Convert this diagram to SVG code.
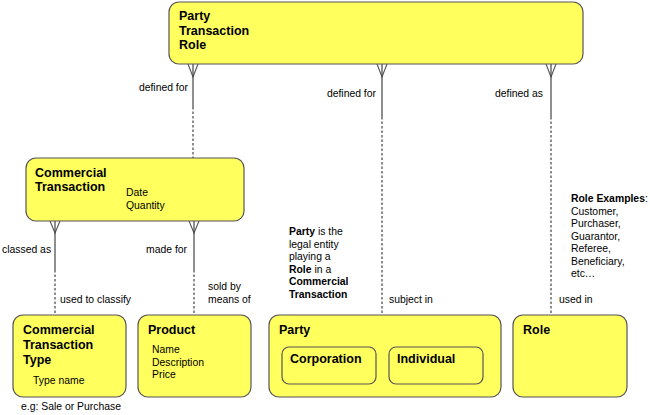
<svg xmlns="http://www.w3.org/2000/svg" width="650" height="415" viewBox="0 0 650 415">
<style>
.box{fill:#ffff5e;stroke:#555;stroke-width:1.2}
.t{font-family:"Liberation Sans",Arial,sans-serif;font-size:12.5px;font-weight:bold;fill:#000}
.a{font-family:"Liberation Sans",Arial,sans-serif;font-size:10.4px;fill:#000}
.s{stroke:#444;stroke-width:1.2;fill:none}
.d{stroke:#444;stroke-width:1.2;fill:none;stroke-dasharray:2.5,2}
.cf{stroke:#555;stroke-width:1.1;fill:none}
</style>
<rect width="650" height="415" fill="#fff"/>
<g id="connectors">
  <path class="cf" d="M188,64 L193,77 L198,64"/>
  <line class="s" x1="193" y1="64" x2="193" y2="107"/>
  <line class="d" x1="193" y1="107" x2="193" y2="158"/>
  <text class="a" x="188" y="91" text-anchor="end">defined for</text>
  <path class="cf" d="M377,64 L382,77 L387,64"/>
  <line class="s" x1="382" y1="64" x2="382" y2="117"/>
  <line class="d" x1="382" y1="117" x2="382" y2="315"/>
  <text class="a" x="376" y="97" text-anchor="end">defined for</text>
  <text class="a" x="389" y="303">subject in</text>
  <path class="cf" d="M546,64 L551,77 L556,64"/>
  <line class="s" x1="551" y1="64" x2="551" y2="117"/>
  <line class="d" x1="551" y1="117" x2="551" y2="315"/>
  <text class="a" x="543" y="97" text-anchor="end">defined as</text>
  <text class="a" x="559" y="303">used in</text>
  <path class="cf" d="M50,221 L55,233 L60,221"/>
  <line class="s" x1="55" y1="221" x2="55" y2="270"/>
  <line class="d" x1="55" y1="270" x2="55" y2="315"/>
  <text class="a" x="2" y="253">classed as</text>
  <text class="a" x="60" y="303">used to classify</text>
  <path class="cf" d="M189,221 L194,233 L199,221"/>
  <line class="s" x1="194" y1="221" x2="194" y2="270"/>
  <line class="d" x1="194" y1="270" x2="194" y2="315"/>
  <text class="a" x="146" y="253">made for</text>
  <text class="a" x="208" y="290">sold by</text>
  <text class="a" x="208" y="303">means of</text>
</g>
<g id="party-transaction-role">
  <rect class="box" x="169" y="2" width="414" height="62" rx="10"/>
  <text class="t" x="179" y="20">Party</text>
  <text class="t" x="179" y="35">Transaction</text>
  <text class="t" x="179" y="49">Role</text>
</g>
<g id="commercial-transaction">
  <rect class="box" x="26" y="158" width="218" height="63" rx="10"/>
  <text class="t" x="35" y="177">Commercial</text>
  <text class="t" x="35" y="191">Transaction</text>
  <text class="a" x="126" y="196">Date</text>
  <text class="a" x="126" y="209">Quantity</text>
</g>
<g id="commercial-transaction-type">
  <rect class="box" x="13" y="315" width="113" height="82" rx="10"/>
  <text class="t" x="23" y="334">Commercial</text>
  <text class="t" x="23" y="349">Transaction</text>
  <text class="t" x="23" y="364">Type</text>
  <text class="a" x="33" y="384">Type name</text>
  <text class="a" x="21" y="410">e.g:  Sale or Purchase</text>
</g>
<g id="product">
  <rect class="box" x="138" y="315" width="113" height="82" rx="10"/>
  <text class="t" x="148" y="334">Product</text>
  <text class="a" x="152" y="353">Name</text>
  <text class="a" x="152" y="366">Description</text>
  <text class="a" x="152" y="378">Price</text>
</g>
<g id="party">
  <rect class="box" x="269" y="315" width="232" height="82" rx="10"/>
  <text class="t" x="279" y="334">Party</text>
  <g id="corporation">
    <rect class="box" x="282" y="347" width="94" height="37" rx="7"/>
    <text class="t" x="290" y="363">Corporation</text>
  </g>
  <g id="individual">
    <rect class="box" x="389" y="347" width="94" height="37" rx="7"/>
    <text class="t" x="397" y="363">Individual</text>
  </g>
</g>
<g id="role">
  <rect class="box" x="513" y="315" width="114" height="82" rx="10"/>
  <text class="t" x="523" y="334">Role</text>
</g>
<g id="party-note" class="a">
  <text x="289" y="235"><tspan font-weight="bold">Party</tspan> is the</text>
  <text x="289" y="247.6">legal entity</text>
  <text x="289" y="260.2">playing a</text>
  <text x="289" y="272.8"><tspan font-weight="bold">Role</tspan> in a</text>
  <text x="289" y="285.4" font-weight="bold">Commercial</text>
  <text x="289" y="298" font-weight="bold">Transaction</text>
</g>
<g id="role-note" class="a">
  <text x="571" y="202"><tspan font-weight="bold">Role Examples</tspan>:</text>
  <text x="571" y="214.5">Customer,</text>
  <text x="571" y="227">Purchaser,</text>
  <text x="571" y="239.5">Guarantor,</text>
  <text x="571" y="252">Referee,</text>
  <text x="571" y="264.5">Beneficiary,</text>
  <text x="571" y="277">etc…</text>
</g>
</svg>
